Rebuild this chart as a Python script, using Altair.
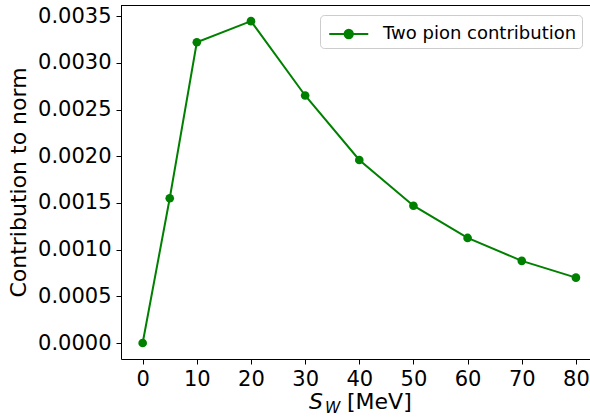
import altair as alt
import pandas as pd

# Two pion contribution to the norm as a function of S_W
sw_mev = [0, 5, 10, 20, 30, 40, 50, 60, 70, 80]
contribution = [0.0, 0.00155, 0.00322, 0.003446, 0.00265, 0.00196,
                0.00147, 0.001125, 0.00088, 0.0007]
series_name = ["Two pion contribution"] * len(sw_mev)

x_ticks = [0, 10, 20, 30, 40, 50, 60, 70, 80]
y_ticks = [0.0, 0.0005, 0.001, 0.0015, 0.002, 0.0025, 0.003, 0.0035]

df = pd.DataFrame({"sw": sw_mev, "norm": contribution, "series": series_name})

GREEN = "#008000"
FONT = "DejaVu Sans"
W, H = 469, 354

x_enc = alt.X(
    "sw:Q",
    scale=alt.Scale(domain=[-4, 82.6], nice=False, zero=False),
    axis=alt.Axis(values=x_ticks, title=None, labelFontSize=21, labelFont=FONT,
                  labelColor="black", tickSize=5, tickColor="black", tickWidth=1,
                  domainColor="black", domainWidth=1, labelPadding=4, grid=False,
                  labelFlush=False),
)
y_enc = alt.Y(
    "norm:Q",
    scale=alt.Scale(domain=[-0.000171, 0.003619], nice=False, zero=False),
    axis=alt.Axis(values=y_ticks, format=".4f", title="Contribution to norm",
                  titleFontSize=22, titleFont=FONT, titleFontWeight="normal",
                  titleColor="black", titlePadding=7, labelFontSize=21,
                  labelFont=FONT, labelColor="black", tickSize=5,
                  tickColor="black", tickWidth=1, domainColor="black",
                  domainWidth=1, labelPadding=5, grid=False, labelFlush=False),
)

# legend symbol: short line with a dot in the middle
legend_symbol = ("M-0.75,0L2.25,0M1.07,0A0.32,0.32,0,1,1,0.43,0"
                 "A0.32,0.32,0,1,1,1.07,0Z")

color_enc = alt.Color(
    "series:N",
    scale=alt.Scale(range=[GREEN]),
    legend=alt.Legend(
        title=None, orient="none", legendX=199, legendY=10,
        symbolType=legend_symbol, symbolSize=676, symbolStrokeWidth=2,
        symbolFillColor=GREEN, symbolStrokeColor=GREEN,
        labelFontSize=18, labelFont=FONT, labelColor="black", labelOffset=30,
        labelLimit=400, padding=5, cornerRadius=4, strokeColor="#cccccc",
        fillColor="rgba(255,255,255,0.8)",
    ),
)

line = alt.Chart(df).mark_line(strokeWidth=2, clip=True).encode(
    x=x_enc, y=y_enc, color=color_enc
)
points = alt.Chart(df).mark_circle(size=75, opacity=1, clip=True).encode(
    x="sw:Q", y="norm:Q", color=alt.Color("series:N", legend=None)
)

one = pd.DataFrame({"k": [0]})
top_spine = alt.Chart(one).mark_rule(color="black", strokeWidth=1).encode(
    x=alt.value(0), x2=alt.value(W), y=alt.value(0.5)
)
s_txt = alt.Chart(one).mark_text(
    text="S", font=FONT, fontSize=22, fontStyle="italic", align="left",
    baseline="alphabetic", color="black"
).encode(x=alt.value(188), y=alt.value(404))
w_txt = alt.Chart(one).mark_text(
    text="W", font=FONT, fontSize=15.5, fontStyle="italic", align="left",
    baseline="alphabetic", color="black"
).encode(x=alt.value(204), y=alt.value(408))
unit_txt = alt.Chart(one).mark_text(
    text="[MeV]", font=FONT, fontSize=22, align="left",
    baseline="alphabetic", color="black"
).encode(x=alt.value(226), y=alt.value(404))

chart = (
    alt.layer(line, points, top_spine, s_txt, w_txt, unit_txt)
    .properties(
        width=W, height=H,
        padding={"left": 121, "top": 5, "right": 0, "bottom": 60},
        autosize=alt.AutoSizeParams(type="none"),
        background="white",
    )
    .configure_view(strokeOpacity=0)
)

chart.save("out.html", embed_options={"renderer": "svg", "actions": False})
